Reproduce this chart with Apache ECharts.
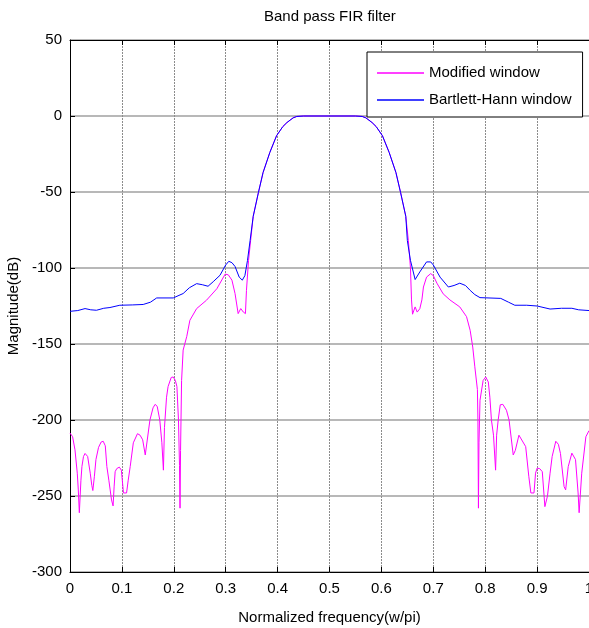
<!DOCTYPE html>
<html>
<head>
<meta charset="utf-8">
<title>Band pass FIR filter</title>
<script src="https://cdn.jsdelivr.net/npm/echarts@6/dist/echarts.min.js"></script>
<style>
  html, body { margin: 0; padding: 0; background: #fff; overflow: hidden; }
  #chart { width: 589px; height: 628px; }
</style>
</head>
<body>
<div id="chart"></div>
<script>
// Frequency axis ticks (normalized, w/pi) and magnitude ticks (dB)
const freqTicks = [0, 0.1, 0.2, 0.3, 0.4, 0.5, 0.6, 0.7, 0.8, 0.9, 1];
const magTicks = [50, 0, -50, -100, -150, -200, -250, -300];

// Modified window response: frequencies and magnitudes
const modFreq = [
  0, 0.005, 0.0096, 0.014, 0.016, 0.018, 0.021, 0.023, 0.026, 0.029, 0.034, 0.039, 0.042, 0.044,
  0.047, 0.05, 0.055, 0.06, 0.064, 0.068, 0.071, 0.075, 0.08, 0.083, 0.085, 0.087, 0.09, 0.095,
  0.099, 0.103, 0.109, 0.112, 0.116, 0.122, 0.13, 0.135, 0.14, 0.145, 0.148, 0.154, 0.16, 0.164,
  0.168, 0.173, 0.177, 0.18, 0.182, 0.186, 0.189, 0.195, 0.199, 0.203, 0.206, 0.209, 0.211, 0.212,
  0.213, 0.215, 0.218, 0.225, 0.231, 0.244, 0.263, 0.283, 0.299, 0.305, 0.312, 0.318, 0.324, 0.329,
  0.334, 0.338, 0.34, 0.344, 0.348, 0.353, 0.363, 0.372, 0.385, 0.398, 0.41, 0.418, 0.43, 0.437,
  0.45, 0.55, 0.563, 0.57, 0.582, 0.59, 0.602, 0.615, 0.628, 0.637, 0.647, 0.652, 0.656, 0.658,
  0.66, 0.665, 0.669, 0.674, 0.678, 0.681, 0.687, 0.695, 0.7, 0.707, 0.719, 0.732, 0.751, 0.764,
  0.771, 0.776, 0.78, 0.785, 0.786, 0.787, 0.788, 0.79, 0.796, 0.801, 0.806, 0.809, 0.812, 0.816,
  0.82, 0.822, 0.825, 0.829, 0.834, 0.841, 0.846, 0.854, 0.858, 0.865, 0.868, 0.878, 0.884, 0.888,
  0.894, 0.897, 0.9, 0.905, 0.91, 0.915, 0.92, 0.925, 0.929, 0.936, 0.941, 0.945, 0.952, 0.955,
  0.96, 0.967, 0.974, 0.979, 0.981, 0.986, 0.994, 1
];
const modMag = [
  -208.6, -211, -219.6, -235, -246, -261, -240, -230.6, -224, -222, -224, -235, -243, -246.4,
  -237, -226, -218, -214.5, -214, -217, -230.6, -240, -252.6, -256.5, -244, -234, -232, -231,
  -233, -248, -248, -240, -230.6, -215, -209, -210, -213, -223, -222, -200, -192, -189.7,
  -191, -200, -215, -233, -205, -185, -178, -172, -171.7, -174, -178, -200, -230, -258,
  -220, -174, -154, -145, -134.4, -126.7, -121.2, -113.6, -104, -104.5, -108, -116.8, -130, -126.7,
  -129, -130, -114.7, -95, -82, -66, -50.4, -37.2, -24, -13, -7, -4.3, -1.2, -0.3,
  0, 0, -0.3, -1.2, -4.3, -7, -13, -24, -37.2, -50.4, -66, -82, -100, -121,
  -130.4, -125.6, -129, -126.8, -121, -112.5, -106, -103.7, -105, -110, -117, -121, -125.6, -132,
  -141, -152, -165, -180, -200, -258, -215, -187, -174, -171.7, -175, -185, -200, -210,
  -233, -210, -200, -190, -189.7, -193.6, -200, -223, -220, -210, -209, -217.5, -237, -248,
  -248, -235, -231.7, -232, -234, -257, -250, -235, -224, -214, -216, -222, -243.8, -246,
  -230.6, -221.8, -226, -248, -261, -235, -211, -207
];

// Bartlett-Hann window response: frequencies and magnitudes
const bhFreq = [
  0, 0.015, 0.029, 0.04, 0.051, 0.065, 0.077, 0.096, 0.12, 0.141, 0.155, 0.167, 0.185, 0.199,
  0.21, 0.218, 0.23, 0.244, 0.255, 0.266, 0.276, 0.289, 0.3, 0.306, 0.312, 0.318, 0.326, 0.332,
  0.337, 0.342, 0.347, 0.353, 0.363, 0.372, 0.385, 0.398, 0.41, 0.418, 0.43, 0.437, 0.45, 0.55,
  0.563, 0.57, 0.582, 0.59, 0.602, 0.615, 0.628, 0.637, 0.647, 0.65, 0.656, 0.665, 0.674, 0.687,
  0.695, 0.7, 0.713, 0.729, 0.74, 0.751, 0.762, 0.771, 0.78, 0.79, 0.83, 0.845, 0.857, 0.88,
  0.9, 0.925, 0.947, 0.967, 0.98, 1
];
const bhMag = [
  -128.5, -128, -126.7, -127.5, -127.8, -126.5, -126, -124.5, -124.3, -124, -122.5, -119.7, -119.7, -119.7,
  -118, -116.8, -113, -110.3, -111, -112, -109, -104.8, -98, -95.6, -96.5, -99, -106, -108,
  -105, -95, -82, -66, -50.4, -37.2, -24, -13, -7, -4.3, -1.2, -0.3, 0, 0,
  -0.3, -1.2, -4.3, -7, -13, -24, -37.2, -50.4, -66, -82, -95, -107.6, -102.6, -96,
  -96, -98, -106, -112.5, -111.5, -110, -111.5, -114.7, -117.5, -119.5, -120, -122.5, -124.5, -124.5,
  -125, -127, -126.5, -126.5, -127.5, -128
];

const pairs = (xs, ys) => xs.map((x, i) => [x, ys[i]]);

const FONT = '"Liberation Sans", Arial, sans-serif';

const chart = echarts.init(document.getElementById('chart'), null, { renderer: 'canvas' });

chart.setOption({
  animation: false,
  backgroundColor: '#ffffff',
  title: {
    text: 'Band pass FIR filter',
    left: 259,
    top: 4,
    textStyle: { fontFamily: FONT, fontSize: 15, fontWeight: 'normal', color: '#000' }
  },
  legend: {
    orient: 'vertical',
    left: 367,
    top: 52,
    padding: [11, 11, 7, 10],
    itemGap: 7,
    itemWidth: 47,
    itemHeight: 1.5,
    icon: 'rect',
    backgroundColor: '#ffffff',
    borderColor: '#000000',
    borderWidth: 1,
    textStyle: { fontFamily: FONT, fontSize: 15, color: '#000', lineHeight: 20 },
    data: ['Modified window', 'Bartlett-Hann window']
  },
  grid: { left: 70, top: 40, right: 0, bottom: 56, containLabel: false, outerBoundsMode: 'none' },
  xAxis: [
    {
      type: 'value',
      min: freqTicks[0],
      max: freqTicks[freqTicks.length - 1],
      interval: 0.1,
      name: 'Normalized frequency(w/pi)',
      nameLocation: 'middle',
      nameGap: 38,
      nameTextStyle: { fontFamily: FONT, fontSize: 15, color: '#000' },
      axisLine: { onZero: false, lineStyle: { color: '#000', width: 1 } },
      axisTick: { inside: true, length: 5, lineStyle: { color: '#000' } },
      axisLabel: {
        fontFamily: FONT, fontSize: 15, color: '#000', margin: 9,
        formatter: v => String(parseFloat(v.toFixed(1)))
      },
      splitLine: { show: true, lineStyle: { color: '#8c8c8c', width: 1, type: [2, 1] } }
    },
    {
      type: 'value',
      position: 'top',
      min: freqTicks[0],
      max: freqTicks[freqTicks.length - 1],
      interval: 0.1,
      axisLine: { onZero: false, lineStyle: { color: '#000', width: 1 } },
      axisTick: { inside: true, length: 5, lineStyle: { color: '#000' } },
      axisLabel: { show: false },
      splitLine: { show: false }
    }
  ],
  yAxis: {
    type: 'value',
    min: magTicks[magTicks.length - 1],
    max: magTicks[0],
    interval: 50,
    name: 'Magnitude(dB)',
    nameLocation: 'middle',
    nameGap: 46,
    nameTextStyle: { fontFamily: FONT, fontSize: 15, color: '#000' },
    axisLine: { show: true, onZero: false, lineStyle: { color: '#000', width: 1 } },
    axisTick: { show: true, inside: true, length: 5, lineStyle: { color: '#000' } },
    axisLabel: { fontFamily: FONT, fontSize: 15, color: '#000', margin: 8 },
    splitLine: { show: true, lineStyle: { color: '#a0a0a0', width: 1.5 } }
  },
  series: [
    {
      name: 'Modified window',
      type: 'line',
      xAxisIndex: 0,
      data: pairs(modFreq, modMag),
      symbol: 'none',
      smooth: false,
      lineStyle: { color: '#ff00ff', width: 1 },
      itemStyle: { color: '#ff00ff' },
      z: 2
    },
    {
      name: 'Bartlett-Hann window',
      type: 'line',
      xAxisIndex: 0,
      data: pairs(bhFreq, bhMag),
      symbol: 'none',
      smooth: false,
      lineStyle: { color: '#0000ff', width: 1 },
      itemStyle: { color: '#0000ff' },
      z: 3
    }
  ]
});
</script>
</body>
</html>
